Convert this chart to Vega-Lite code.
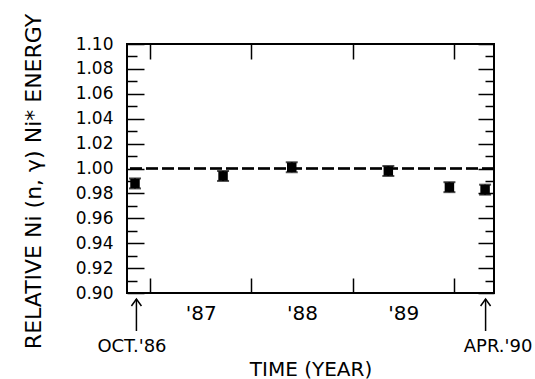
{
  "$schema": "https://vega.github.io/schema/vega-lite/v6.json",
  "width": 367,
  "height": 249,
  "autosize": {"type": "none"},
  "padding": {"left": 127, "top": 44, "right": 41, "bottom": 86},
  "background": "white",
  "config": {
    "view": {"stroke": "black", "strokeWidth": 2},
    "font": "DejaVu Sans",
    "axis": {
      "domain": false,
      "grid": false,
      "tickColor": "black",
      "tickWidth": 1.5,
      "labelColor": "black",
      "titleColor": "black",
      "labelFont": "DejaVu Sans",
      "titleFont": "DejaVu Sans",
      "titleFontWeight": "normal",
      "labelFlush": false,
      "labelOverlap": false
    }
  },
  "datasets": {
    "pts": [
      {"t": 1986.852, "v": 0.988, "lo": 0.984, "hi": 0.992},
      {"t": 1987.721, "v": 0.994, "lo": 0.990, "hi": 0.998},
      {"t": 1988.399, "v": 1.001, "lo": 0.997, "hi": 1.005},
      {"t": 1989.352, "v": 0.998, "lo": 0.994, "hi": 1.002},
      {"t": 1989.955, "v": 0.985, "lo": 0.981, "hi": 0.989},
      {"t": 1990.307, "v": 0.983, "lo": 0.979, "hi": 0.987}
    ],
    "arrows": [
      {"t": 1986.866},
      {"t": 1990.312}
    ],
    "notes": [
      {"t": 1986.822, "label": "OCT.'86"},
      {"t": 1990.435, "label": "APR.'90"}
    ]
  },
  "resolve": {"axis": {"x": "independent", "y": "independent"}},
  "layer": [
    {
      "data": {"name": "pts"},
      "mark": {"type": "rule", "stroke": "black", "strokeWidth": 1.5, "strokeDash": [12, 4]},
      "encoding": {
        "y": {"datum": 1.0, "type": "quantitative", "scale": {"domain": [0.9, 1.1], "nice": false, "zero": false}, "axis": null}
      }
    },
    {
      "data": {"name": "pts"},
      "mark": {"type": "rule", "stroke": "black", "strokeWidth": 2},
      "encoding": {
        "x": {"field": "t", "type": "quantitative", "scale": {"domain": [1986.773, 1990.395], "nice": false, "zero": false},
          "axis": {"orient": "top", "values": [1987, 1988, 1989, 1990], "tickSize": -15, "labels": false, "title": null}},
        "y": {"field": "lo", "type": "quantitative", "scale": {"domain": [0.9, 1.1], "nice": false, "zero": false},
          "axis": {"orient": "right", "values": [0.9, 0.91, 0.92, 0.93, 0.94, 0.95, 0.96, 0.97, 0.98, 0.99, 1.0, 1.01, 1.02, 1.03, 1.04, 1.05, 1.06, 1.07, 1.08, 1.09, 1.1],
            "tickSize": {"condition": {"test": "round(datum.value*100)%2==0", "value": -16}, "value": -9}, "labels": false, "title": null}},
        "y2": {"field": "hi"}
      }
    },
    {
      "data": {"name": "pts"},
      "mark": {"type": "tick", "orient": "horizontal", "color": "black", "size": 12, "thickness": 2},
      "encoding": {
        "x": {"field": "t", "type": "quantitative", "scale": {"domain": [1986.773, 1990.395], "nice": false, "zero": false}, "axis": null},
        "y": {"field": "lo", "type": "quantitative", "scale": {"domain": [0.9, 1.1], "nice": false, "zero": false}, "axis": null}
      }
    },
    {
      "data": {"name": "pts"},
      "mark": {"type": "tick", "orient": "horizontal", "color": "black", "size": 12, "thickness": 2},
      "encoding": {
        "x": {"field": "t", "type": "quantitative", "scale": {"domain": [1986.773, 1990.395], "nice": false, "zero": false}, "axis": null},
        "y": {"field": "hi", "type": "quantitative", "scale": {"domain": [0.9, 1.1], "nice": false, "zero": false}, "axis": null}
      }
    },
    {
      "data": {"name": "pts"},
      "mark": {"type": "point", "shape": "square", "filled": true, "color": "black", "opacity": 1, "size": 90},
      "encoding": {
        "x": {"field": "t", "type": "quantitative", "scale": {"domain": [1986.773, 1990.395], "nice": false, "zero": false},
          "axis": {"orient": "bottom", "values": [1987, 1987.5, 1988, 1988.5, 1989, 1989.5, 1990],
            "tickSize": {"condition": {"test": "datum.value%1==0", "value": -15}, "value": 0},
            "labelExpr": "datum.value==1987.5?\"'87\":datum.value==1988.5?\"'88\":datum.value==1989.5?\"'89\":''",
            "labelFontSize": 20, "labelPadding": 10,
            "title": "TIME (YEAR)", "titleFontSize": 20, "titlePadding": 36}},
        "y": {"field": "v", "type": "quantitative", "scale": {"domain": [0.9, 1.1], "nice": false, "zero": false},
          "axis": {"orient": "left", "values": [0.9, 0.91, 0.92, 0.93, 0.94, 0.95, 0.96, 0.97, 0.98, 0.99, 1.0, 1.01, 1.02, 1.03, 1.04, 1.05, 1.06, 1.07, 1.08, 1.09, 1.1],
            "tickSize": {"condition": {"test": "round(datum.value*100)%2==0", "value": -17}, "value": -10},
            "labelExpr": "round(datum.value*100)%2==0 ? format(datum.value,'.2f') : ''",
            "labelFontSize": 17, "labelPadding": 31,
            "title": "RELATIVE Ni (n, γ) Ni* ENERGY", "titleFontSize": 22, "titlePadding": 30, "titleY": 137}}
      }
    },
    {
      "data": {"name": "arrows"},
      "mark": {"type": "rule", "stroke": "black", "strokeWidth": 1.5},
      "encoding": {
        "x": {"field": "t", "type": "quantitative", "scale": {"domain": [1986.773, 1990.395], "nice": false, "zero": false}, "axis": null},
        "y": {"datum": 0.8952, "type": "quantitative", "scale": {"domain": [0.9, 1.1], "nice": false, "zero": false}, "axis": null},
        "y2": {"datum": 0.8695}
      }
    },
    {
      "data": {"name": "arrows"},
      "mark": {"type": "point", "shape": "M-1,1.4L0,0L1,1.4", "filled": false, "stroke": "black", "strokeWidth": 1.5, "opacity": 1, "size": 100},
      "encoding": {
        "x": {"field": "t", "type": "quantitative", "scale": {"domain": [1986.773, 1990.395], "nice": false, "zero": false}, "axis": null},
        "y": {"datum": 0.8952, "type": "quantitative", "scale": {"domain": [0.9, 1.1], "nice": false, "zero": false}, "axis": null}
      }
    },
    {
      "data": {"name": "notes"},
      "mark": {"type": "text", "font": "DejaVu Sans", "fontSize": 18, "color": "black", "align": "center", "baseline": "alphabetic"},
      "encoding": {
        "x": {"field": "t", "type": "quantitative", "scale": {"domain": [1986.773, 1990.395], "nice": false, "zero": false}, "axis": null},
        "y": {"datum": 0.8526, "type": "quantitative", "scale": {"domain": [0.9, 1.1], "nice": false, "zero": false}, "axis": null},
        "text": {"field": "label"}
      }
    }
  ]
}
